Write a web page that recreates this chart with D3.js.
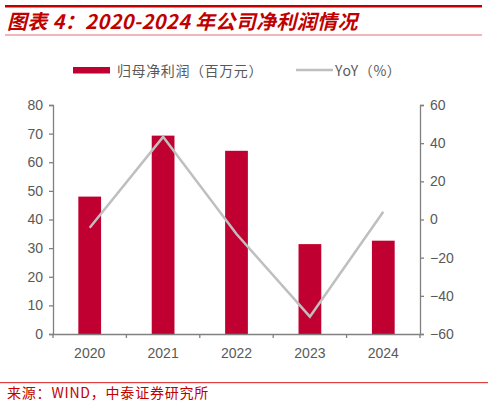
<!DOCTYPE html>
<html><head><meta charset="utf-8">
<script src="https://cdn.jsdelivr.net/npm/d3@7/dist/d3.min.js"></script>
<style>
html,body{margin:0;padding:0;background:#fff;}
svg{display:block;}
</style></head>
<body>
<svg id="chart" width="488" height="406"></svg>
<script>
const categories = ["2020", "2021", "2022", "2023", "2024"];
const profit = [48.0, 69.3, 64.0, 31.4, 32.6];
const yoy = [-4.3, 43.3, -7.6, -50.9, 4.1];
const leftTicks = [0, 10, 20, 30, 40, 50, 60, 70, 80];
const rightTicks = [-60, -40, -20, 0, 20, 40, 60];
const titleText = "图表 4：2020-2024 年公司净利润情况";
const barLabel = "归母净利润（百万元）";
const lineLabel = "YoY（%）";
const sourceText = "来源：WIND，中泰证券研究所";

const svg = d3.select("#chart");
const red = "#C00030", grey = "#808080", textGrey = "#595959";
const latin = "'Liberation Sans', Arial, sans-serif";
const cjk = "'Noto Sans CJK SC', sans-serif";

// header
svg.append("rect").attr("x",5).attr("y",5).attr("width",477).attr("height",2.5).attr("fill","#C00000");
svg.append("text").attr("x",7).attr("y",29).attr("fill","#C00000")
  .attr("font-family",cjk).attr("font-size",20).attr("font-weight","bold").attr("font-style","italic")
  .attr("letter-spacing",0.35).text(titleText);
svg.append("rect").attr("x",5).attr("y",34.5).attr("width",477).attr("height",1).attr("fill","#E07070");

const m = {l:53, r:420, t:105, b:334};
const x = d3.scaleBand().domain(categories).range([m.l, m.r]).paddingInner(0.69).paddingOuter(0.345);
const xb = d3.scaleBand().domain(categories).range([m.l, m.r]);
const yL = d3.scaleLinear().domain([0,80]).range([m.b, m.t]);
const yR = d3.scaleLinear().domain([-60,60]).range([m.b, m.t]);

// bars
svg.append("g").selectAll("rect").data(profit).join("rect")
  .attr("x",(d,i)=>x(categories[i])).attr("width",x.bandwidth())
  .attr("y",d=>yL(d)).attr("height",d=>m.b-yL(d)).attr("fill",red);

// line
const line = d3.line().x((d,i)=>xb(categories[i])+xb.bandwidth()/2).y(d=>yR(d));
svg.append("path").datum(yoy).attr("d",line).attr("fill","none")
  .attr("stroke","#BFBFBF").attr("stroke-width",2.5);

function styleAxis(g){
  g.selectAll("path.domain").attr("stroke",grey).attr("stroke-width",1.3);
  g.selectAll(".tick line").attr("stroke",grey).attr("stroke-width",1.3);
  g.selectAll("text").attr("fill",textGrey).attr("font-family",latin).attr("font-size",14);
}
const gl = svg.append("g").attr("transform",`translate(${m.l},0)`)
  .call(d3.axisLeft(yL).tickValues(leftTicks).tickSize(4).tickSizeOuter(4).tickPadding(6));
styleAxis(gl);
const gr = svg.append("g").attr("transform",`translate(${m.r},0)`)
  .call(d3.axisRight(yR).tickValues(rightTicks).tickSize(4).tickSizeOuter(4).tickPadding(6));
styleAxis(gr);
const gx = svg.append("g").attr("transform",`translate(0,${m.b})`)
  .call(d3.axisBottom(xb).tickSize(0).tickPadding(14));
styleAxis(gx);
// category boundary ticks
gx.selectAll("line.sep").data(d3.range(categories.length+1)).join("line").attr("class","sep")
  .attr("x1",i=>m.l+i*xb.step()).attr("x2",i=>m.l+i*xb.step()).attr("y1",0).attr("y2",4)
  .attr("stroke",grey).attr("stroke-width",1.3);

// legend
svg.append("rect").attr("x",73).attr("y",67).attr("width",37).attr("height",6.5).attr("fill",red);
svg.append("text").attr("x",117).attr("y",76).attr("fill",textGrey).attr("font-family",cjk)
  .attr("font-size",14).attr("letter-spacing",0.6).text(barLabel);
svg.append("line").attr("x1",296).attr("x2",333).attr("y1",70).attr("y2",70)
  .attr("stroke","#BFBFBF").attr("stroke-width",2.5);
svg.append("text").attr("x",335).attr("y",76).attr("fill",textGrey).attr("font-family",cjk)
  .attr("font-size",14).attr("letter-spacing",0.6).text(lineLabel);

// footer
svg.append("rect").attr("x",0).attr("y",382).attr("width",488).attr("height",1.2).attr("fill","#E04040");
svg.append("text").attr("x",7).attr("y",398).attr("fill","#C00000").attr("font-family",cjk)
  .attr("font-size",14).attr("letter-spacing",0.8).text(sourceText);
</script>
</body></html>
